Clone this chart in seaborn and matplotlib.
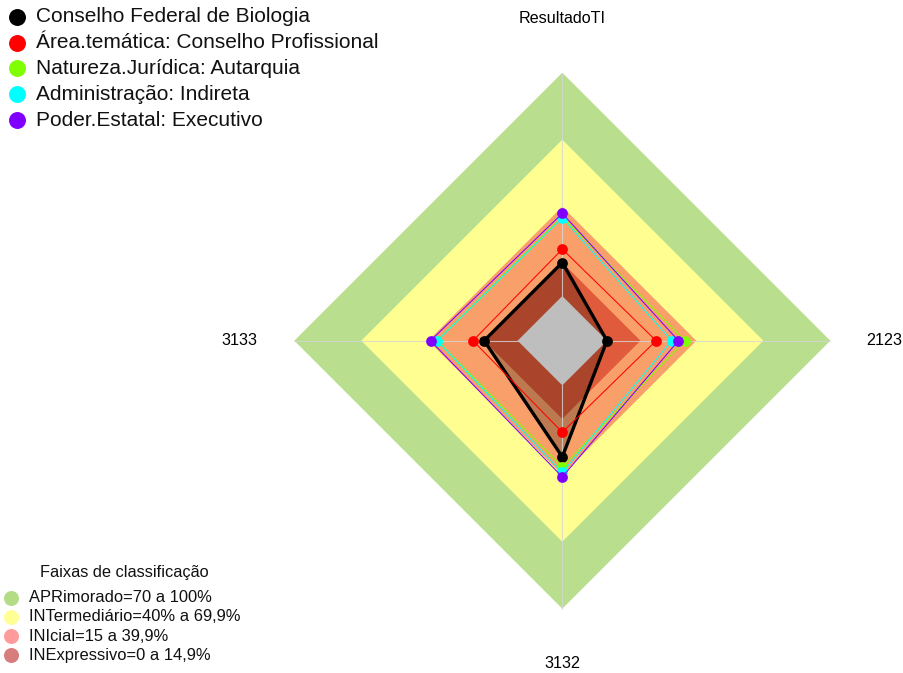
import numpy as np
import pandas as pd
import matplotlib
matplotlib.use("Agg")
import matplotlib.pyplot as plt
from matplotlib.lines import Line2D
import seaborn as sns

# Radar axes (clockwise from the top)
axis_labels = ["ResultadoTI", "2123", "3132", "3133"]

# Series (share of the indicator, 0..1, same order as axis_labels)
series_names = [
    "Conselho Federal de Biologia",
    "Área.temática: Conselho Profissional",
    "Natureza.Jurídica: Autarquia",
    "Administração: Indireta",
    "Poder.Estatal: Executivo",
]
series_colors = ["#000000", "#ff0000", "#7fff00", "#00ffff", "#7f00ff"]
biologia = [0.15, 0.00, 0.32, 0.15]
area_tematica = [0.21, 0.22, 0.21, 0.20]
natureza = [0.355, 0.35, 0.365, 0.36]
administracao = [0.35, 0.29, 0.39, 0.36]
poder = [0.37, 0.32, 0.41, 0.39]
series_values = [biologia, area_tematica, natureza, administracao, poder]

# Classification bands
band_title = "Faixas de classificação"
band_labels = [
    "APRimorado=70 a 100%",
    "INTermediário=40% a 69,9%",
    "INIcial=15 a 39,9%",
    "INExpressivo=0 a 14,9%",
]
band_upper = [1.0, 0.7, 0.4, 0.15]
band_fill = ["#b9df8e", "#ffff91", "#f9a06a", "#e05b3b"]
band_legend = ["#b4dc87", "#ffff96", "#ff9b9b", "#d77d7d"]

sns.set_theme(style="white")
plt.rcParams["font.family"] = ["Liberation Sans", "DejaVu Sans"]

W, H, DPI = 904, 673, 100
CX, CY, R = 562.3, 340.7, 268.0
HOLE = 1.0 / 6.0
angles = np.deg2rad([90, 0, -90, 180])


def radius(values):
    return HOLE + (1.0 - HOLE) * np.asarray(values, dtype=float)


def polygon(values):
    r = radius(values)
    x = r * np.cos(angles)
    y = r * np.sin(angles)
    return np.append(x, x[0]), np.append(y, y[0])


fig = plt.figure(figsize=(W / DPI, H / DPI), dpi=DPI)
ax = fig.add_axes([0, 0, 1, 1])
ax.set_xlim(-CX / R, (W - CX) / R)
ax.set_ylim(-(H - CY) / R, CY / R)
ax.axis("off")

# Bands, outermost first
for level, color in zip(band_upper, band_fill):
    bx, by = polygon([level] * len(axis_labels))
    ax.fill(bx, by, color=color, lw=0, zorder=1)

# Translucent area of the main organisation
fx, fy = polygon(biologia)
ax.fill(fx, fy, color="black", alpha=0.24, lw=0, zorder=2)

# Centre hole (zero level)
hx, hy = polygon([0.0] * len(axis_labels))
ax.fill(hx, hy, color="#bebebe", lw=0, zorder=3)

# Spokes
for a in angles:
    ax.plot([HOLE * np.cos(a), np.cos(a)], [HOLE * np.sin(a), np.sin(a)],
            color="#d6d6d6", lw=0.8, alpha=0.8, zorder=4)

# Series lines and points
for i, (name, color, vals) in enumerate(zip(series_names, series_colors, series_values)):
    px, py = polygon(vals)
    ring = pd.DataFrame({"x": px, "y": py, "order": np.arange(len(px))})
    pts = ring.iloc[:-1]
    lw = 2.4 if i == 0 else 0.75
    sns.lineplot(data=ring, x="x", y="y", sort=False, estimator=None,
                 color=color, lw=lw, ax=ax, legend=False, zorder=5 + 2 * i)
    sns.scatterplot(data=pts, x="x", y="y", color=color, s=60, linewidth=0,
                    ax=ax, legend=False, zorder=6 + 2 * i)
ax.set_xlabel("")
ax.set_ylabel("")

# Axis labels
for a, lab in zip(angles, axis_labels):
    ax.text(1.203 * np.cos(a), 1.203 * np.sin(a), lab, ha="center", va="center",
            fontsize=11.6, color="black")


def fpos(x, y):
    return x / W, 1 - y / H


# Series legend (top left)
for k, (name, color) in enumerate(zip(series_names, series_colors)):
    yy = 16.8 + 25.8 * k
    mx, my = fpos(16.7, yy)
    fig.add_artist(Line2D([mx], [my], transform=fig.transFigure, marker="o",
                          markersize=12.2, markeredgewidth=0, color=color, linestyle="none"))
    tx, ty = fpos(36, yy)
    fig.text(tx, ty, name, ha="left", va="center", fontsize=15, color="#111111")

# Band legend (bottom left)
tx, ty = fpos(124, 572)
fig.text(tx, ty, band_title, ha="center", va="center", fontsize=11.8, color="#111111")
for k, (lab, color) in enumerate(zip(band_labels, band_legend)):
    yy = 597.7 + 19.2 * k
    mx, my = fpos(11, yy)
    fig.add_artist(Line2D([mx], [my], transform=fig.transFigure, marker="o",
                          markersize=10.8, markeredgewidth=0, color=color, linestyle="none"))
    tx, ty = fpos(29, yy)
    fig.text(tx, ty, lab, ha="left", va="center", fontsize=11.9, color="#111111")

fig.savefig("out.png", dpi=DPI, facecolor="white")
